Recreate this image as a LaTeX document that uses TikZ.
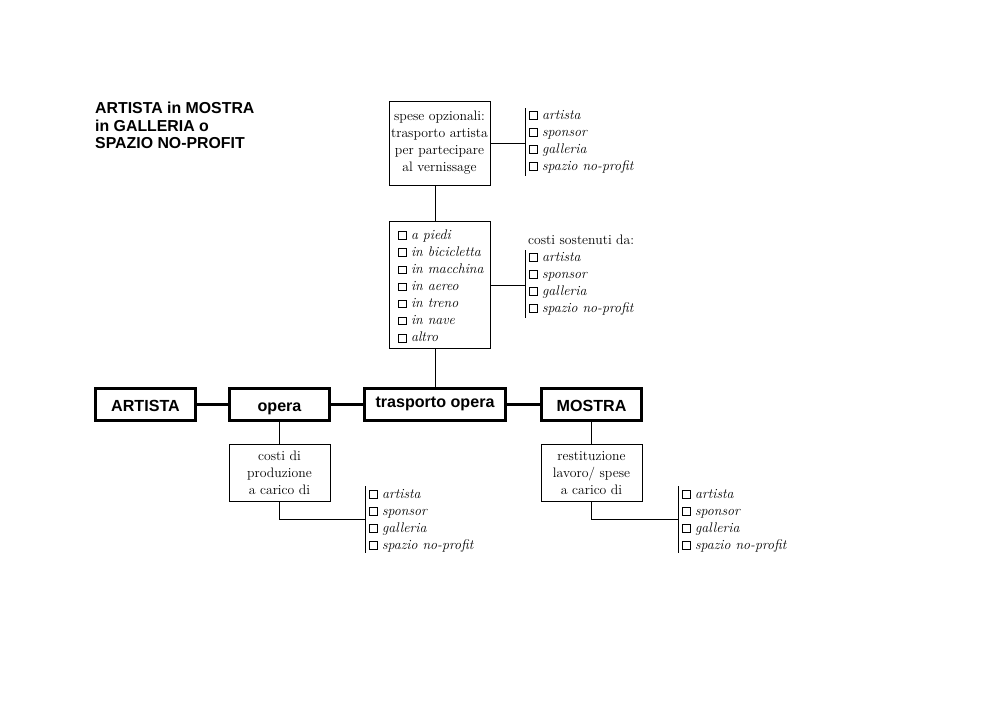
\documentclass[tikz,border=0pt]{standalone}
\usepackage{fontspec}
\setsansfont{Liberation Sans}
\newcommand\cb{\raisebox{0.2pt}{\fboxsep=0pt\fboxrule=0.6pt\fbox{\rule{0pt}{6pt}\rule{6pt}{0pt}}}\hspace{3.6pt}}
\tikzset{
  mainbox/.style={draw, line width=2.6pt, inner sep=0pt, minimum width=2.96cm, minimum height=0.93cm,
    text height=12pt, text depth=0pt,
    font=\sffamily\bfseries\fontsize{13.6}{16}\selectfont},
  infobox/.style={draw, line width=0.8pt, inner sep=0pt, minimum width=3.0cm, align=center,
    font=\fontsize{11.6}{14.4}\selectfont},
  listtext/.style={inner sep=0pt, align=left, anchor=west, font=\itshape\fontsize{11.8}{14.4}\selectfont},
  thin/.style={line width=0.8pt},
  thickline/.style={line width=2.8pt}
}
\begin{document}
\begin{tikzpicture}[x=0.0297cm,y=-0.0297cm]
\useasboundingbox (0,0) rectangle (1000,708);
% title
\node[inner sep=0pt, anchor=north west, align=left, font=\sffamily\bfseries\fontsize{13.4}{14.6}\selectfont] (title) at (95,102)
  {ARTISTA in MOSTRA\\in GALLERIA o\\SPAZIO NO-PROFIT};
% main row
\node[mainbox] (artista) at (145.5,404.5) {ARTISTA};
\node[mainbox] (opera) at (279.5,404.5) {opera};
\node[mainbox, minimum width=4.17cm] (trasp) at (435,404.5) {\raisebox{3.4pt}{trasporto opera}};
\node[mainbox] (mostra) at (591.5,404.5) {MOSTRA};
\draw[thickline] (artista) -- (opera);
\draw[thickline] (opera) -- (trasp);
\draw[thickline] (trasp) -- (mostra);
% box 1
\node[infobox, minimum height=2.495cm] (b1) at (439.5,143)
  {spese opzionali:\\trasporto artista\\per partecipare\\al vernissage};
\coordinate (v1t) at (525,108); \coordinate (v1b) at (525,176);
\draw[thin] (v1t) -- (v1b);
\draw[thin] (b1.east) -- (b1.east -| v1t);
\node[listtext] (l1) at (529,141.5) {\cb artista\\\cb sponsor\\\cb galleria\\\cb spazio no-profit};
% box 2
\node[infobox, minimum height=3.77cm] (b2) at (439.5,284.5) {};
\node[listtext] (l2) at (398,286) {\cb a piedi\\\cb in bicicletta\\\cb in macchina\\\cb in aereo\\\cb in treno\\\cb in nave\\\cb altro};
\draw[thin] (b1.south -| trasp.north) -- (b2.north -| trasp.north);
\draw[thin] (b2.south -| trasp.north) -- (trasp.north);
\node[inner sep=0pt, anchor=west, font=\fontsize{11.6}{14.4}\selectfont] (cs) at (528,240) {costi sostenuti da:};
\coordinate (v2t) at (525,250); \coordinate (v2b) at (525,318);
\draw[thin] (v2t) -- (v2b);
\draw[thin] (b2.east |- 0,285) coordinate (c2) -- (c2 -| v2t);
\node[listtext] (l3) at (529,283.5) {\cb artista\\\cb sponsor\\\cb galleria\\\cb spazio no-profit};
% box 3
\node[infobox, minimum height=1.72cm] (b3) at (279.5,473) {costi di\\produzione\\a carico di};
\draw[thin] (opera.south) -- (b3.north);
\coordinate (v3t) at (365,486); \coordinate (v3b) at (365,553);
\draw[thin] (v3t) -- (v3b);
\coordinate (k3) at (279.5,519);
\draw[thin] (b3.south) -- (k3) -- (k3 -| v3t);
\node[listtext] (l4) at (369,520.5) {\cb artista\\\cb sponsor\\\cb galleria\\\cb spazio no-profit};
% box 4
\node[infobox, minimum height=1.72cm] (b4) at (591.5,473) {restituzione\\lavoro/ spese\\a carico di};
\draw[thin] (mostra.south) -- (b4.north);
\coordinate (v4t) at (678,486); \coordinate (v4b) at (678,553);
\draw[thin] (v4t) -- (v4b);
\coordinate (k4) at (591.5,519);
\draw[thin] (b4.south) -- (k4) -- (k4 -| v4t);
\node[listtext] (l5) at (682,520.5) {\cb artista\\\cb sponsor\\\cb galleria\\\cb spazio no-profit};
\end{tikzpicture}
\end{document}
